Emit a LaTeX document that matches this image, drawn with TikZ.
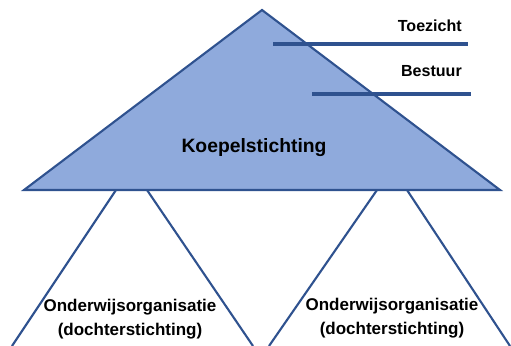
\documentclass[tikz,border=0pt]{standalone}
\usepackage{fontspec}
\setmainfont{Liberation Sans}
\definecolor{cBlue}{RGB}{47,82,143}
\definecolor{cLight}{RGB}{143,170,220}

\begin{document}
\begin{tikzpicture}[x=0.03cm,y=-0.03cm,
    lbl/.style={font=\bfseries\fontsize{13.7}{16}\selectfont,anchor=east,inner sep=0pt},
    org/.style={font=\bfseries\fontsize{14.5}{17}\selectfont,align=center,inner sep=0pt}]
        \useasboundingbox (0,0) rectangle (511,346);
        % koepel
        \draw[cBlue,line width=1.8pt,fill=cLight,line join=miter] (262,10) -- (500,190) -- (24,190) -- cycle;
        \node[font=\bfseries\fontsize{16.5}{19}\selectfont,inner sep=0pt] (koepel) at (254,148) {Koepelstichting};
        
        \draw[cBlue,line width=3.2pt] (273,44) -- (468,44);
        \draw[cBlue,line width=3.2pt] (312,94) -- (471,94);
        \node[lbl] (toezicht) at (462,25.5) {Toezicht};
        \node[lbl] (bestuur) at (462,71) {Bestuur};
        
        % dochters
        \draw[cBlue,line width=1.8pt] (116,190) -- (12,346);
        \draw[cBlue,line width=1.8pt] (147,190) -- (253,346);
        \draw[cBlue,line width=1.8pt] (377,190) -- (269,346);
        \draw[cBlue,line width=1.8pt] (407,190) -- (510,346);
        \node[org] (dochterA) at (130,319) {Onderwijsorganisatie\\[3pt](dochterstichting)};
        \node[org] (dochterB) at (392,318) {Onderwijsorganisatie\\[3pt](dochterstichting)};
    \end{tikzpicture}
\end{document}
